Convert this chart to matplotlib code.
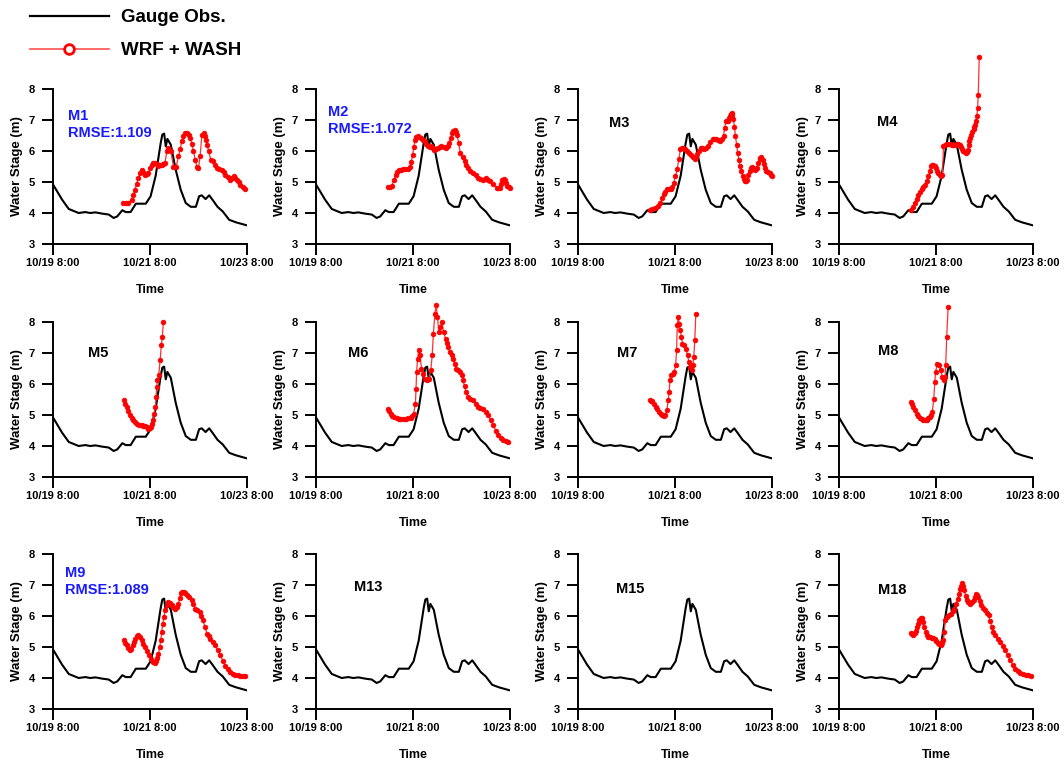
import matplotlib.pyplot as plt
from matplotlib.lines import Line2D

plt.rcParams['font.family'] = ['Liberation Sans', 'DejaVu Sans']
plt.rcParams['font.weight'] = 'bold'

# gauge observation (hours after 10/19 8:00, stage in m)
obs_t = [0, 4.5, 7.8, 12.7, 16, 18.4, 21, 24.3, 27.6, 30, 31.8, 34.3, 36, 38.4, 41,
         45.9, 48.3, 50.8, 53.3, 54.1, 55, 55.8, 56.6, 58.3, 60.7, 63.2, 65.7, 68.2,
         70.7, 72.3, 73.6, 75.5, 77.3, 78.9, 81.4, 84, 87.2, 90.5, 96]
obs_v = [4.92, 4.43, 4.13, 4.0, 4.03, 4.0, 4.02, 3.98, 3.95, 3.84, 3.89, 4.09, 4.03, 4.03, 4.3,
         4.3, 4.54, 5.2, 6.26, 6.53, 6.56, 6.15, 6.39, 6.2, 5.4, 4.75, 4.32, 4.2,
         4.2, 4.54, 4.57, 4.45, 4.57, 4.43, 4.2, 4.05, 3.78, 3.7, 3.6]

# WRF + WASH simulated stage per site
m1_t = [34.8, 36.0, 37.2, 38.9, 39.7, 40.5, 41.4, 42.2, 43.1, 43.9, 44.7, 45.5, 46.4, 47.2,
        48.0, 48.8, 49.7, 50.5, 51.3, 52.1, 53.0, 53.8, 54.6, 55.4, 56.3,
        57.1, 58.3, 59.6, 60.9, 62.1, 63.0, 63.7, 64.5, 65.4, 66.5, 67.2, 67.9, 68.7,
        69.5, 70.4, 71.2, 72, 72.8, 73.7,
        74.5, 75.2, 75.8, 76.4, 77, 78.1, 79.4, 80.2, 81.1, 82.3, 83.6, 84.4, 85.2, 86.4,
        87.7, 88.5, 89.4, 90.2, 91, 91.8, 92.7, 94.0, 95.2]
m1_v = [4.32, 4.31, 4.32, 4.43, 4.58, 4.75, 4.95, 5.13, 5.3, 5.4, 5.33, 5.24, 5.25, 5.29,
        5.45, 5.56, 5.6, 5.61, 5.57, 5.53, 5.54, 5.56, 5.58, 5.61, 5.99,
        6.1, 5.99, 5.5, 5.48, 5.83, 6.08, 6.31, 6.47, 6.58, 6.58, 6.52, 6.42, 6.22,
        5.99, 5.72, 5.5, 5.45, 5.83, 6.53,
        6.58, 6.5, 6.37, 6.18, 5.99, 5.72, 5.67, 5.55, 5.45, 5.42, 5.4, 5.33, 5.24, 5.15,
        5.08, 5.12, 5.18, 5.14, 5.08, 5.0, 4.91, 4.84, 4.77]

m2_t = [35.4, 36.5, 37.5, 38.5, 39.5, 40.3, 41.2, 42.2, 43.2, 44.2, 45.3, 46.5, 47.2, 47.8,
        48.4, 49, 49.7, 50.3, 51.2, 52, 52.8, 53.7, 54.5, 55.3, 56.2, 57, 57.8, 58.6,
        59.4, 60.3, 61.2, 62, 63.2, 64.4, 65.1, 65.8, 66.6, 67.4, 68, 68.6, 69.2, 69.8,
        70.6, 71.4, 72.5, 73.6, 74.4, 75.2, 76.4, 77.7, 79, 80.2, 81.4, 82.7, 83.4, 84.1,
        85, 86, 87.7, 89.4, 90.2, 91, 91.6, 92.2, 92.9, 93.5, 94.1, 94.7, 95.3, 96]
m2_v = [4.84, 4.85, 4.88, 5.05, 5.24, 5.32, 5.38, 5.4, 5.42, 5.42, 5.42, 5.48, 5.66, 5.88,
        6.12, 6.37, 6.44, 6.47, 6.45, 6.42, 6.37, 6.31, 6.23, 6.15, 6.14, 6.15, 6.09, 6.02,
        6.05, 6.1, 6.14, 6.17, 6.14, 6.1, 6.17, 6.26, 6.42, 6.58, 6.65, 6.69, 6.62, 6.53,
        6.25, 5.94, 5.8, 5.67, 5.56, 5.45, 5.37, 5.29, 5.21, 5.13, 5.1, 5.08, 5.1, 5.13,
        5.08, 5.02, 4.92, 4.81, 4.8, 4.81, 4.95, 5.08, 5.1, 5.08, 4.98, 4.88, 4.84, 4.81]

m3_t = [35.4, 36.8, 38.3, 39.5, 40.8, 41.6, 42.4, 43.2, 44.1, 45, 45.8, 46.6, 47.4, 48.2,
        49.1, 49.9, 50.7, 51.4, 52.1, 53.1, 54.1, 54.9, 55.7, 56.7, 57.7, 58.4, 59.1, 59.9,
        60.7, 61.5, 62.4, 63.2, 64.1, 65.3, 66.6, 67.4, 68.2, 69.3, 70.4, 71.2, 72, 72.6,
        73.2, 73.8, 74.4, 74.8, 75.2, 75.6, 76, 76.4, 76.9, 77.4, 77.9, 78.5, 79, 79.6,
        80.2, 80.9, 81.5, 82.1, 82.7, 83.2, 83.7, 84.3, 84.9, 85.5, 86, 86.7, 87.4, 88,
        88.5, 89.2, 89.9, 90.3, 90.7, 91.3, 91.9, 92.5, 93.2, 94, 94.9, 95.5, 96]
m3_v = [4.11, 4.13, 4.16, 4.24, 4.33, 4.47, 4.6, 4.69, 4.76, 4.76, 4.76, 4.85, 4.98, 5.18,
        5.41, 5.75, 6.06, 6.1, 6.11, 6.06, 6.0, 5.93, 5.86, 5.8, 5.75, 5.8, 5.89, 6.0,
        6.11, 6.09, 6.06, 6.1, 6.16, 6.28, 6.4, 6.4, 6.38, 6.35, 6.33, 6.4, 6.49, 6.75,
        6.97, 6.98, 6.97, 7.05, 7.14, 7.18, 7.22, 7.15, 7.03, 6.78, 6.49, 6.2, 5.95, 5.72,
        5.52, 5.34, 5.19, 5.1, 5.03, 5.04, 5.08, 5.22, 5.35, 5.44, 5.49, 5.44, 5.39, 5.42,
        5.46, 5.6, 5.73, 5.79, 5.82, 5.7, 5.57, 5.45, 5.35, 5.31, 5.28, 5.23, 5.19]

m4_t = [35.6, 36.6, 37.6, 38.4, 39.2, 40, 40.9, 41.7, 42.5, 43.4, 44.2, 44.9, 45.5, 46.1,
        46.7, 47.3, 47.8, 48.5, 49.2, 49.9, 50.5, 51.2, 51.7, 52.5, 53.3,
        54.1, 55, 55.8, 56.6, 57.5, 58.3, 59.1, 59.8, 60.4, 61, 61.6, 62.2, 62.8, 63.3, 63.7,
        64.1, 64.4, 64.9, 65.4, 66, 66.6, 67, 67.4, 67.8, 68.2, 68.6, 68.9, 69.4]
m4_v = [4.09, 4.2, 4.32, 4.46, 4.59, 4.68, 4.77, 4.84, 4.91, 5.03, 5.18, 5.35, 5.51, 5.55,
        5.56, 5.52, 5.45, 5.37, 5.29, 5.24, 5.2, 5.24, 6.15, 6.2, 6.22,
        6.23, 6.21, 6.18, 6.19, 6.2, 6.22, 6.23, 6.19, 6.13, 6.06, 5.99, 5.96, 5.94, 5.97, 6.04,
        6.18, 6.31, 6.43, 6.53, 6.62, 6.71, 6.78, 6.85, 6.98, 7.12, 7.39, 7.82, 9.03]

m5_t = [35.3, 35.8, 36.4, 37.2, 38.1, 38.9, 39.7, 40.7, 41.7, 42.8, 43.9, 44.7, 45.5, 46.3,
        47.2, 47.8, 48.3, 48.8, 49.3, 50, 50.7, 51, 51.3, 51.7,
        52.3, 53, 53.6, 54.1, 54.6]
m5_v = [5.47, 5.36, 5.26, 5.12, 4.99, 4.9, 4.83, 4.77, 4.72, 4.69, 4.67, 4.65, 4.63, 4.6,
        4.56, 4.57, 4.61, 4.7, 4.83, 5.04, 5.26, 5.58, 5.9, 6.12,
        6.28, 6.76, 7.25, 7.52, 8.0]

m6_t = [35.4, 36.2, 37, 37.8, 38.7, 39.9, 41.2, 42.3, 43.4, 44.5, 45.7, 47, 47.7, 48.3, 49.2,
        49.5, 49.8, 50.3, 50.8, 51.5, 52.2, 52.8,
        53.8, 54.8, 55.8, 56.8, 57.5, 58.1, 58.8, 59.5, 60.1, 60.8, 61.5, 62.3, 63.1, 64.1,
        64.7, 65.3, 66.4, 67.1, 67.8, 68.6, 69.4, 70.2, 71.1, 72.2, 72.8, 73.5, 74.3, 75.2,
        76.4, 77.7, 79, 80.2, 81.4, 82.7, 84, 85.2, 86.4, 87.7, 89, 90.2, 91.4,
        92.7, 94, 95.2]
m6_v = [5.2, 5.12, 5.04, 4.98, 4.94, 4.9, 4.88, 4.88, 4.88, 4.88, 4.89, 4.91, 4.96, 5.04, 5.37,
        5.85, 6.39, 6.82, 7.11, 6.93, 6.5, 6.33,
        6.17, 6.12, 6.17, 6.44, 6.93, 7.62, 8.27, 8.54, 8.16, 7.68, 7.84, 8.0, 7.68, 7.46,
        7.32, 7.19, 7.03, 6.93, 6.82, 6.66, 6.5, 6.44, 6.39, 6.28, 6.12, 5.92, 5.74, 5.58,
        5.52, 5.47, 5.36, 5.26, 5.23, 5.2, 5.1, 4.99, 4.84, 4.67, 4.5, 4.34, 4.25,
        4.18, 4.15, 4.13]

m7_t = [35.5, 36.2, 36.8, 37.6, 38.5, 39.3, 40.1, 41, 41.8, 42.5, 43.1, 44, 44.6, 45.1, 45.5,
        45.9, 46.8, 47.6, 48.3,
        48.8, 49.1, 49.6, 50.1, 50.6, 51.2, 51.7, 52.6, 53.4, 54.2, 54.9, 55.6, 56.3, 56.8,
        57.3, 57.8, 58.3]
m7_v = [5.47, 5.46, 5.44, 5.36, 5.26, 5.18, 5.1, 5.04, 4.99, 4.98, 4.99, 5.15, 5.47, 5.74, 6.12,
        6.28, 6.33, 6.39, 6.6,
        7.09, 7.89, 8.16, 7.95, 7.73, 7.52, 7.3, 7.25, 7.14, 6.92, 6.71, 6.55, 6.44, 6.6,
        6.87, 7.43, 8.25]

m8_t = [35.6, 36.2, 36.8, 37.6, 38.4, 39.2, 40.1, 40.9, 41.7, 42.5, 43.4, 44.2, 45, 45.6,
        46.2, 46.9, 47.4, 47.8, 48.7, 49.5, 50.3,
        51.2, 52, 52.5, 52.8, 53.3, 54]
m8_v = [5.42, 5.34, 5.26, 5.15, 5.04, 4.97, 4.91, 4.88, 4.85, 4.84, 4.85, 4.89, 4.94, 5.0,
        5.1, 5.53, 6.06, 6.39, 6.66, 6.6, 6.44,
        6.23, 6.12, 6.23, 6.6, 7.52, 8.48]

m9_t = [35.1, 35.7, 36.4, 37.2, 38.1, 38.8, 39.4, 40, 40.6, 41.4, 42.2, 43, 43.9, 44.7, 45.5,
        46.6, 47.7, 48.7, 49.7, 50.4, 51, 51.6, 52.2, 52.8, 53.3, 53.8, 54.3, 54.9,
        55.5, 56.3, 57.1, 58, 58.8, 59.6, 60.4, 61.2, 62.1, 62.7, 63.2, 63.9, 64.6, 65.4,
        66.2, 67.5, 68.7, 69.5, 70.4, 71.5, 72.5, 73.4, 74.2, 75.2, 76.2, 77, 77.8,
        79, 80.3, 81.5, 82.8, 84, 85.3, 86.5, 87.7, 89, 90.2, 91.4, 92.7, 94, 95.2]
m9_v = [5.21, 5.13, 5.05, 4.96, 4.89, 4.95, 5.05, 5.16, 5.27, 5.34, 5.38, 5.31, 5.21, 5.1, 5.0,
        4.87, 4.73, 4.62, 4.51, 4.5, 4.54, 4.64, 4.78, 4.99, 5.21, 5.48, 5.75, 5.98,
        6.19, 6.34, 6.46, 6.42, 6.35, 6.29, 6.24, 6.3, 6.4, 6.58, 6.73, 6.76, 6.78, 6.73,
        6.67, 6.6, 6.51, 6.38, 6.24, 6.18, 6.13, 6.0, 5.86, 5.65, 5.43, 5.35, 5.27,
        5.16, 5.05, 4.9, 4.73, 4.56, 4.4, 4.28, 4.19, 4.14, 4.1, 4.09, 4.08, 4.08, 4.08]

m18_t = [35.6, 36.2, 36.8, 37.4, 37.9, 38.5, 39.2, 39.8, 40.5, 41.1, 41.7, 42.3, 42.9, 43.5,
         44.2, 45, 45.9, 46.7, 47.5, 48.2, 48.8, 49.6, 50.5, 51.1, 51.7, 52.1, 52.5,
         53.6, 54.5, 55.5, 56.3, 57.1, 58, 58.8, 59.3, 59.9, 60.5, 61.1, 61.6, 62.1, 62.6,
         63.2, 64, 64.9, 65.7, 66.6, 67.2, 67.9, 68.4, 69, 69.7, 70.4, 71.3, 72.3, 73.1,
         74, 74.8, 75.6, 76.4, 77.3, 78.5, 79.8, 81, 82.3, 83.5, 84.8, 86, 87.3, 88.5,
         89.8, 91, 92.3, 93.7, 95.2]
m18_v = [5.45, 5.41, 5.38, 5.44, 5.52, 5.63, 5.75, 5.86, 5.95, 5.92, 5.81, 5.65, 5.48, 5.4,
         5.32, 5.31, 5.3, 5.28, 5.27, 5.2, 5.13, 5.1, 5.08, 5.12, 5.21, 5.5, 5.86,
         5.97, 6.02, 6.08, 6.16, 6.24, 6.4, 6.56, 6.7, 6.86, 6.98, 7.07, 6.97, 6.83, 6.66,
         6.51, 6.45, 6.4, 6.46, 6.53, 6.62, 6.7, 6.68, 6.62, 6.5, 6.35, 6.26, 6.19, 6.1,
         6.02, 5.84, 5.64, 5.5, 5.38, 5.27, 5.16, 5.03, 4.89, 4.73, 4.57, 4.43, 4.3, 4.22,
         4.16, 4.13, 4.1, 4.09, 4.08]

sites = ['M1', 'M2', 'M3', 'M4', 'M5', 'M6', 'M7', 'M8', 'M9', 'M13', 'M15', 'M18']
sim_t = [m1_t, m2_t, m3_t, m4_t, m5_t, m6_t, m7_t, m8_t, m9_t, None, None, m18_t]
sim_v = [m1_v, m2_v, m3_v, m4_v, m5_v, m6_v, m7_v, m8_v, m9_v, None, None, m18_v]
rmse = {'M1': '1.109', 'M2': '1.072', 'M9': '1.089'}

# label anchor (axes fraction): x, baseline y
name_pos = {'M1': (0.076, 0.80), 'M2': (0.06, 0.826), 'M3': (0.161, 0.757),
            'M4': (0.194, 0.761), 'M5': (0.182, 0.772), 'M6': (0.167, 0.772),
            'M7': (0.203, 0.772), 'M8': (0.203, 0.787), 'M9': (0.062, 0.85),
            'M13': (0.197, 0.763), 'M15': (0.196, 0.75), 'M18': (0.199, 0.742)}

xticks = [0, 48, 96]
xticklabels = ['10/19 8:00', '10/21 8:00', '10/23 8:00']

fig = plt.figure(figsize=(10.64, 7.65), dpi=100)

W, H = 1064, 765
lefts = [53, 316, 578, 839]
tops = [89, 322, 554]
aw, ah = 194, 155

for i, site in enumerate(sites):
    r, c = divmod(i, 4)
    ax = fig.add_axes([lefts[c] / W, 1 - (tops[r] + ah) / H, aw / W, ah / H])
    ax.plot(obs_t, obs_v, color='black', lw=1.5, zorder=3)
    if sim_t[i] is not None:
        ax.plot(sim_t[i], sim_v[i], color='#ff3030', lw=0.9, marker='o', ms=3.3,
                mfc='#ff0000', mec='#ff0000', mew=0.6, clip_on=False, zorder=4)

    ax.set_xlim(0, 96)
    ax.set_ylim(3, 8)
    ax.set_xticks(xticks)
    ax.set_xticklabels(xticklabels)
    ax.set_yticks([3, 4, 5, 6, 7, 8])
    for s in ['top', 'right']:
        ax.spines[s].set_visible(False)
    for s in ['left', 'bottom']:
        ax.spines[s].set_linewidth(1.4)
    ax.tick_params(axis='both', direction='out', length=8, width=1.4, labelsize=8)
    ax.tick_params(axis='y', pad=5)
    ax.tick_params(axis='x', pad=2)
    for lab in ax.get_xticklabels() + ax.get_yticklabels():
        lab.set_fontweight('bold')
    ax.set_xlabel('Time', fontsize=9, fontweight='bold', labelpad=11.5)
    ax.set_ylabel('Water Stage (m)', fontsize=9.5, fontweight='bold', labelpad=4)

    px, py = name_pos[site]
    if site in rmse:
        ax.text(px, py, site, transform=ax.transAxes, color='#1a1aff', fontsize=10.5,
                fontweight='bold', va='baseline', ha='left')
        ax.text(px, py - 0.108, 'RMSE:' + rmse[site], transform=ax.transAxes,
                color='#1a1aff', fontsize=10.5, fontweight='bold', va='baseline', ha='left')
    else:
        ax.text(px, py, site, transform=ax.transAxes, color='black', fontsize=10.5,
                fontweight='bold', va='baseline', ha='left')

handles = [Line2D([], [], color='black', lw=1.6),
           Line2D([], [], color='#ff5050', lw=1.2, marker='o', ms=7, mfc='white',
                  mec='#ff0000', mew=2)]
fig.legend(handles, ['Gauge Obs.', 'WRF + WASH'], loc='upper left',
           bbox_to_anchor=(30 / W, 1 - 9 / H), frameon=False, borderpad=0,
           borderaxespad=0, handlelength=4.2, handletextpad=0.65, labelspacing=0.85,
           numpoints=1, prop={'size': 13.5, 'weight': 'bold'})

fig.savefig('out.png', dpi=100)
